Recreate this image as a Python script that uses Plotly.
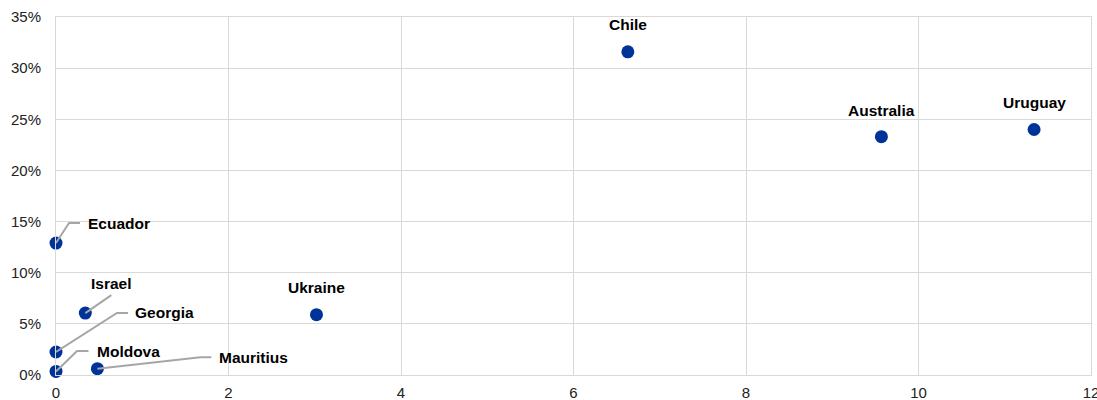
import plotly.graph_objects as go

# ---- data ----
countries = ["Ecuador", "Israel", "Georgia", "Moldova", "Mauritius",
             "Ukraine", "Chile", "Australia", "Uruguay"]
x_values = [0.0, 0.34, 0.0, 0.0, 0.48, 3.02, 6.63, 9.57, 11.34]
y_values = [0.129, 0.0605, 0.0225, 0.0035, 0.0062, 0.059, 0.316, 0.233, 0.240]
x_ticks = [0, 2, 4, 6, 8, 10, 12]

# ---- label layout (pixel offsets from the point; y positive = up) ----
label_layout = {
    "Ecuador":   dict(text=(30, 20, "left"),   path=[(13, 20), (24, 20)]),
    "Israel":    dict(text=(26, 30, "center"), path=[(26, 18)]),
    "Georgia":   dict(text=(76.5, 39, "left"), path=[(61, 39), (72, 39)]),
    "Moldova":   dict(text=(38.5, 20, "left"), path=[(21, 20.5), (32.5, 20.5)]),
    "Mauritius": dict(text=(119.5, 11, "left"), path=[(103, 11.3), (114, 11.3)]),
    "Ukraine":   dict(text=(0, 27, "center"), path=None),
    "Chile":     dict(text=(0, 27, "center"), path=None),
    "Australia": dict(text=(0, 26, "center"), path=None),
    "Uruguay":   dict(text=(0, 27, "center"), path=None),
}

MARKER = "#003399"
GRID = "#d9d9d9"
LEADER = "#a6a6a6"
FONT = "Liberation Sans, Arial, sans-serif"

fig = go.Figure()
fig.add_trace(go.Scatter(
    x=x_values, y=y_values, mode="markers",
    marker=dict(size=13, color=MARKER),
    cliponaxis=False, hoverinfo="text", text=countries, showlegend=False))

shapes = []
annotations = []
for name, xv, yv in zip(countries, x_values, y_values):
    lay = label_layout[name]
    if lay["path"]:
        pts = [(0, 0)] + lay["path"]
        path = "M " + " L ".join(f"{px},{py}" for px, py in pts)
        shapes.append(dict(type="path", xref="x", yref="y",
                           xsizemode="pixel", ysizemode="pixel",
                           xanchor=xv, yanchor=yv, path=path,
                           line=dict(color=LEADER, width=2)))
    tx, ty, align = lay["text"]
    annotations.append(dict(x=xv, y=yv, xref="x", yref="y",
                            xshift=tx, yshift=ty, text=f"<b>{name}</b>",
                            showarrow=False, xanchor=align, yanchor="middle",
                            font=dict(family=FONT, size=15.5, color="#000000")))

fig.update_layout(
    width=1097, height=400,
    margin=dict(l=56, r=6, t=17, b=25),
    paper_bgcolor="white", plot_bgcolor="white",
    font=dict(family=FONT, size=15, color="#222222"),
    shapes=shapes, annotations=annotations,
    xaxis=dict(range=[0, 12], tickvals=x_ticks, showgrid=True, gridcolor=GRID,
               gridwidth=1, zeroline=False, showline=True, linecolor=GRID,
               mirror=True, ticks="outside", ticklen=4,
               tickcolor="rgba(0,0,0,0)", automargin=False,
               ticklabeloverflow="allow"),
    yaxis=dict(range=[0, 0.35], dtick=0.05, tickformat=".0%", showgrid=True,
               gridcolor=GRID, gridwidth=1, zeroline=False, showline=True,
               linecolor=GRID, mirror=True, ticks="outside", ticklen=11,
               tickcolor="rgba(0,0,0,0)", automargin=False),
)

fig.write_html("out.html")
